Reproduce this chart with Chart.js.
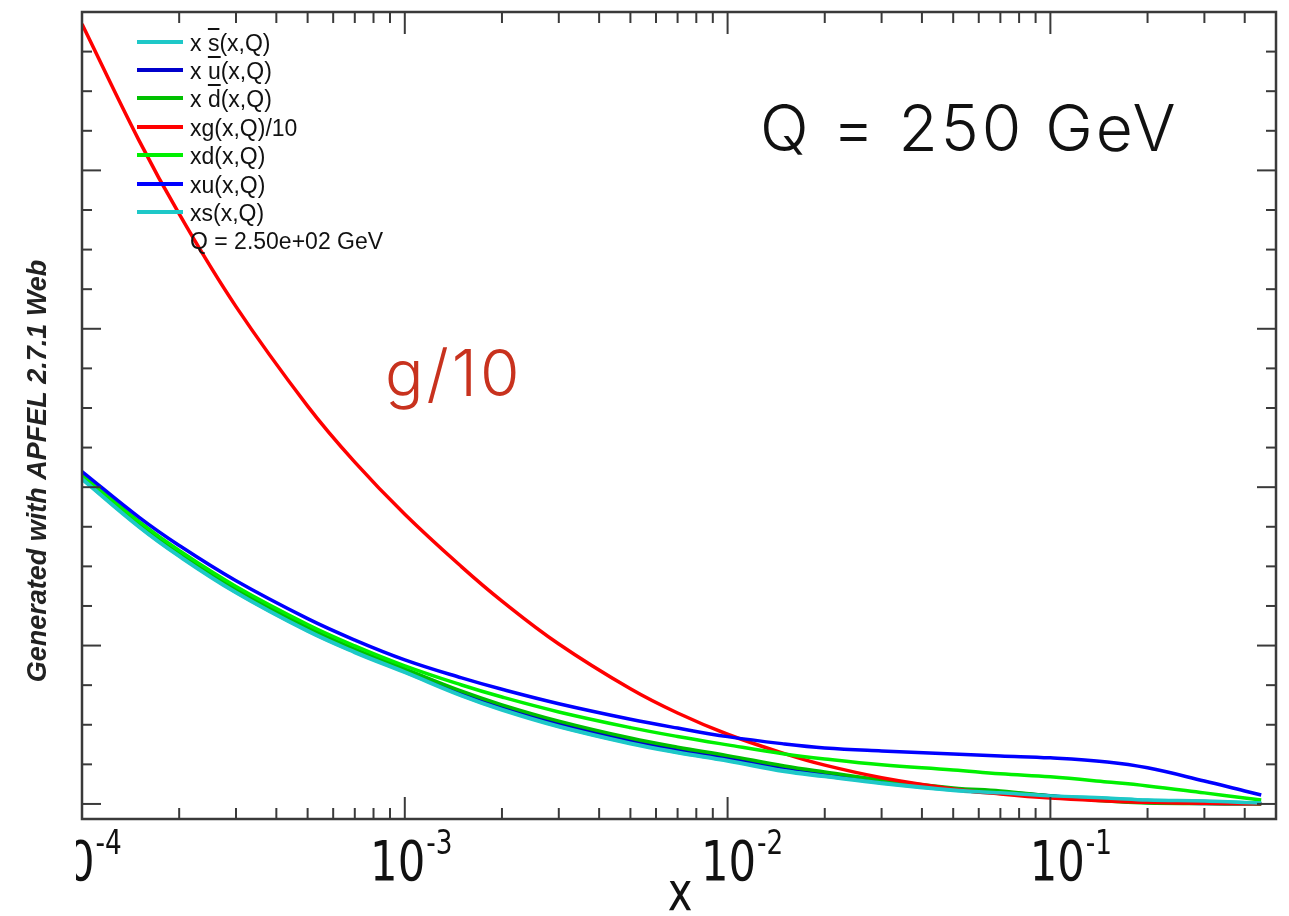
<!DOCTYPE html>
<html>
<head>
<meta charset="utf-8">
<script src="https://cdn.jsdelivr.net/npm/chart.js@4.4.1/dist/chart.umd.min.js"></script>
<style>
  html, body { margin: 0; padding: 0; background: #fff; }
  #wrap { position: relative; width: 1289px; height: 916px; overflow: hidden; }
  #pdf-graph { position: absolute; left: 0; top: 0; }
  .lg { position: absolute; left: 137px; width: 300px; height: 24px; line-height: 24px;
        font: 23px 'Liberation Sans', Arial, sans-serif; color: #111; }
  .lg .sw { position: absolute; left: 0; top: 10px; width: 46px; height: 4px; }
  .lg .tx { position: absolute; left: 53px; top: 0; white-space: pre; }
  .ob { text-decoration: overline; }
  .big { position: absolute; font-family: Inter, Roboto, sans-serif; font-weight: 300;
         font-size: 64px; line-height: 64px; white-space: pre; }
</style>
</head>
<body>
<div id="wrap">
  <canvas id="pdf-graph" width="1289" height="916"></canvas>
  <div id="legend"></div>
  <div class="big" style="left:760px; top:96px; color:#111; letter-spacing:3px;">Q = 250 GeV</div>
  <div class="big" style="left:385px; top:341px; color:#c8321e; letter-spacing:3px;">g/10</div>
</div>
<script>
// x grid the curves are read at
const xPoints = [1e-4, 1.5e-4, 2e-4, 3e-4, 5e-4, 7e-4, 1e-3, 1.5e-3, 2e-3, 3e-3, 5e-3, 7e-3,
                 1e-2, 1.5e-2, 2e-2, 3e-2, 5e-2, 7e-2, 0.1, 0.15, 0.2, 0.3, 0.4, 0.45];

// curve values (y axis is unlabelled, values in tick units)
const xsbar = [2.050, 1.749, 1.563, 1.333, 1.090, 0.956, 0.830, 0.682, 0.593, 0.487, 0.380, 0.323,
               0.271, 0.205, 0.173, 0.129, 0.085, 0.067, 0.048, 0.035, 0.023, 0.017, 0.008, 0.005];
const xubar = [2.062, 1.762, 1.577, 1.347, 1.105, 0.970, 0.845, 0.700, 0.612, 0.508, 0.400, 0.342,
               0.290, 0.228, 0.192, 0.145, 0.096, 0.076, 0.052, 0.022, 0.009, 0.003, 0.001, 0.0];
const xdbar = [2.067, 1.768, 1.584, 1.355, 1.113, 0.978, 0.853, 0.712, 0.626, 0.523, 0.416, 0.358,
               0.305, 0.240, 0.202, 0.152, 0.101, 0.082, 0.051, 0.019, 0.006, 0.003, 0.001, 0.0];
const xgOver10 = [4.924, 4.191, 3.725, 3.140, 2.512, 2.158, 1.829, 1.497, 1.281, 1.010, 0.727, 0.574,
                  0.440, 0.318, 0.245, 0.166, 0.095, 0.063, 0.037, 0.019, 0.010, 0.004, 0.002, 0.001];
const xd = [2.080, 1.784, 1.600, 1.373, 1.133, 0.998, 0.872, 0.751, 0.675, 0.581, 0.482, 0.426,
            0.373, 0.316, 0.284, 0.247, 0.215, 0.190, 0.171, 0.139, 0.114, 0.070, 0.038, 0.025];
const xu = [2.099, 1.811, 1.632, 1.409, 1.170, 1.035, 0.910, 0.796, 0.724, 0.633, 0.535, 0.479,
            0.425, 0.379, 0.354, 0.335, 0.316, 0.303, 0.291, 0.265, 0.228, 0.145, 0.082, 0.057];
const xs = [2.054, 1.753, 1.567, 1.337, 1.094, 0.960, 0.834, 0.686, 0.597, 0.491, 0.384, 0.327,
            0.275, 0.209, 0.177, 0.133, 0.088, 0.070, 0.051, 0.038, 0.025, 0.019, 0.009, 0.006];

const seriesNames = ['x s̄(x,Q)', 'x ū(x,Q)', 'x d̄(x,Q)', 'xg(x,Q)/10', 'xd(x,Q)', 'xu(x,Q)', 'xs(x,Q)'];
const legendHtml = ['x <span class="ob">s</span>(x,Q)', 'x <span class="ob">u</span>(x,Q)', 'x <span class="ob">d</span>(x,Q)',
                    'xg(x,Q)/10', 'xd(x,Q)', 'xu(x,Q)', 'xs(x,Q)'];
const seriesData = [xsbar, xubar, xdbar, xgOver10, xd, xu, xs];
const seriesColors = ['#1ec8c8', '#0000cc', '#00c000', '#ff0000', '#00f000', '#0000ff', '#1ec8c8'];
const legendNote = 'Q = 2.50e+02 GeV';
const xTickExps = [-4, -3, -2, -1];
const xTickNudge = [-2, 6, 14, 20];   // ROOT puts the exponent labels a bit off the tick

// legend, top left inside the frame
const legend = document.getElementById('legend');
for (let i = 0; i <= seriesNames.length; i++) {
    const row = document.createElement('div');
    row.className = 'lg';
    row.style.top = (29.5 + i * 28.4) + 'px';
    if (i < seriesNames.length) {
        row.innerHTML = '<span class="sw" style="background:' + seriesColors[i] + '"></span><span class="tx">' + legendHtml[i] + '</span>';
    } else {
        row.innerHTML = '<span class="tx">' + legendNote + '</span>';
    }
    legend.appendChild(row);
}

const NARROW = "'Liberation Sans Narrow', 'DejaVu Sans Condensed', sans-serif";

// ROOT style frame, inward ticks and axis labels
const rootFrame = {
    id: 'rootFrame',
    afterDatasetsDraw(chart) {
        const { ctx, chartArea: a } = chart;
        const x = chart.scales.x, y = chart.scales.y;
        ctx.save();
        ctx.strokeStyle = '#3a3a3a';
        ctx.lineWidth = 2;
        const seg = (x1, y1, x2, y2) => { ctx.beginPath(); ctx.moveTo(x1, y1); ctx.lineTo(x2, y2); ctx.stroke(); };

        for (let k = 0; k <= 20; k++) {
            const v = k * 0.25;
            const py = y.getPixelForValue(v);
            const len = (k % 4 === 0) ? 19 : 10;
            seg(a.left, py, a.left + len, py);
            seg(a.right, py, a.right - len, py);
        }
        for (let e = -4; e <= -1; e++) {
            for (let m = 1; m <= 9; m++) {
                const v = m * Math.pow(10, e);
                if (v > x.max) break;
                const px = x.getPixelForValue(v);
                const len = (m === 1) ? 22 : 11;
                seg(px, a.bottom, px, a.bottom - len);
                seg(px, a.top, px, a.top + len);
            }
        }
        ctx.lineWidth = 2.5;
        ctx.strokeRect(a.left, a.top, a.right - a.left, a.bottom - a.top);

        // x tick labels, 10^n, drawn a little condensed like the original
        const sx = 0.86;
        ctx.save();
        ctx.beginPath();
        ctx.rect(76, a.bottom + 2, chart.width, 100);
        ctx.clip();
        ctx.fillStyle = '#111';
        ctx.textBaseline = 'alphabetic';
        ctx.textAlign = 'left';
        xTickExps.forEach((e, i) => {
            const px = x.getPixelForValue(Math.pow(10, e));
            ctx.font = '56px ' + NARROW;
            const wb = ctx.measureText('10').width * sx;
            ctx.font = '34px ' + NARROW;
            const we = ctx.measureText(String(e)).width * sx;
            const x0 = px - (wb + we) / 2 + xTickNudge[i];
            ctx.save();
            ctx.translate(x0, 0);
            ctx.scale(sx, 1);
            ctx.font = '56px ' + NARROW;
            ctx.fillText('10', 0, a.bottom + 61);
            ctx.font = '34px ' + NARROW;
            ctx.fillText(String(e), (wb + 1) / sx, a.bottom + 35);
            ctx.restore();
        });
        ctx.restore();

        // axis title
        ctx.save();
        ctx.fillStyle = '#111';
        ctx.translate(680, a.bottom + 91);
        ctx.scale(sx, 1);
        ctx.textAlign = 'center';
        ctx.font = '54px ' + NARROW;
        ctx.fillText('x', 0, 0);
        ctx.restore();

        // generator note along the left edge
        ctx.save();
        ctx.translate(46, 471);
        ctx.rotate(-Math.PI / 2);
        ctx.font = "italic bold 27px 'Liberation Sans', Arial, sans-serif";
        ctx.fillStyle = '#222';
        ctx.textAlign = 'center';
        ctx.fillText('Generated with APFEL 2.7.1 Web', 0, 0);
        ctx.restore();

        ctx.restore();
    }
};

const order = [6, 5, 4, 3, 2, 1, 0];

new Chart(document.getElementById('pdf-graph'), {
    type: 'line',
    data: {
        datasets: seriesNames.map((name, i) => ({
            label: name,
            data: xPoints.map((xv, j) => ({ x: xv, y: seriesData[i][j] })),
            borderColor: seriesColors[i],
            borderWidth: 3.5,
            pointRadius: 0,
            fill: false,
            tension: 0.4,
            order: order[i]
        }))
    },
    options: {
        responsive: false,
        animation: false,
        layout: { padding: { left: 82, right: 13, top: 12, bottom: 97 } },
        plugins: { legend: { display: false }, tooltip: { enabled: false } },
        scales: {
            x: { type: 'logarithmic', min: 1e-4, max: 0.5, display: false },
            y: { type: 'linear', min: -0.095, max: 5.0, display: false }
        }
    },
    plugins: [rootFrame]
});
</script>
</body>
</html>
